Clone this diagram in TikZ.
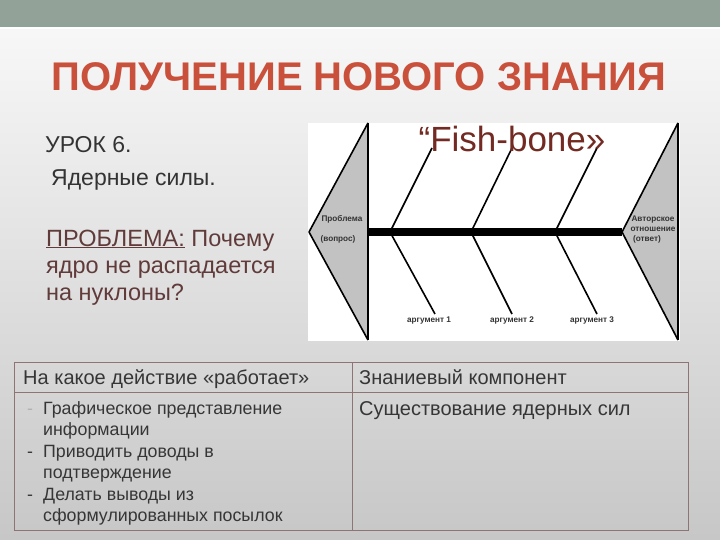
\documentclass[tikz,border=0pt]{standalone}
\usepackage{fontspec}
\setmainfont{Liberation Sans}
\usepackage{xcolor}

\definecolor{bandgreen}{HTML}{93A299}
\definecolor{titlered}{HTML}{C9503B}
\definecolor{fishred}{HTML}{722A22}
\definecolor{problembrown}{HTML}{613A3A}
\definecolor{tableline}{HTML}{8E7474}
\definecolor{celltext}{HTML}{363636}
\definecolor{headgrey}{HTML}{C2C2C2}

\tikzset{
	slidetitle/.style={font=\bfseries\fontsize{40}{44}\selectfont, text=titlered},
	lesson/.style={font=\fontsize{23}{27}\selectfont, text=black!80, anchor=base west},
	problem/.style={font=\fontsize{23.5}{27}\selectfont, text=problembrown, anchor=base west},
	fishtitle/.style={font=\fontsize{35}{39}\selectfont, text=fishred, anchor=base},
	boneword/.style={font=\bfseries\fontsize{8.2}{10}\selectfont, text=black!80, anchor=base},
	bone/.style={line width=1.6pt},
	spineline/.style={line width=7pt},
	headcell/.style={font=\fontsize{20}{24}\selectfont, text=celltext, anchor=base west},
	bodycell/.style={font=\fontsize{17.8}{21}\selectfont, text=celltext, anchor=base west},
	grid/.style={draw=tableline, line width=1pt}
}

\begin{document}
\begin{tikzpicture}[x=1pt, y=-1pt, every node/.style={inner sep=0pt}]
	\useasboundingbox (0,0) rectangle (720,540);
	\shade[top color=white!97!black, bottom color=white!78!black] (0,29) rectangle (720,540);
	\fill[bandgreen] (0,0) rectangle (720,27);
	\fill[white] (0,27) rectangle (720,29);

	\node[slidetitle] (title) at (359,77) {ПОЛУЧЕНИЕ НОВОГО ЗНАНИЯ};

	\node[lesson] (urok) at (45,153) {УРОК 6.};
	\node[lesson] (topic) at (51,186) {Ядерные силы.};
	\node[problem] (prob1) at (46,246) {\underline{ПРОБЛЕМА:} Почему};
	\node[problem] (prob2) at (46,273) {ядро не распадается};
	\node[problem] (prob3) at (46,300) {на нуклоны?};

	\fill[white] (308,123) rectangle (680,341);
	\coordinate (pTop) at (368,123);
	\coordinate (pTip) at (309,232);
	\coordinate (pBot) at (368,340);
	\coordinate (aTop) at (678,123);
	\coordinate (aTip) at (622,232);
	\coordinate (aBot) at (678,340);
	\coordinate (spineL) at (368,232);
	\fill[headgrey] (pTop) -- (pTip) -- (pBot) -- cycle;
	\fill[headgrey] (aTop) -- (aTip) -- (aBot) -- cycle;
	\draw[bone, line join=round] (pTop) -- (pTip) -- (pBot);
	\draw[bone, line join=round] (aTop) -- (aTip) -- (aBot);
	\draw[line width=2pt] (pTop) -- (pBot);
	\draw[line width=2pt] (aTop) -- (aBot);
	\draw[spineline] (spineL) -- (aTip);

	\foreach \j/\u/\d/\a [count=\k] in {390/432/435/429, 471/512/512/512, 555/597/597/592}{
		\coordinate (j\k) at (\j,232);
		\coordinate (u\k) at (\u,148);
		\coordinate (d\k) at (\d,314);
		\draw[bone] (j\k) -- (u\k);
		\draw[bone] (j\k) -- (d\k);
		\node[boneword] (arg\k) at (\a,322.5) {аргумент \k};
	}

	\node[boneword] (head1) at (342,222) {Проблема};
	\node[boneword] (head2) at (338,241) {(вопрос)};
	\node[boneword] (tail1) at (653,222) {Авторское};
	\node[boneword] (tail2) at (653,231) {отношение};
	\node[boneword] (tail3) at (647,241) {(ответ)};

	\node[fishtitle] (fish) at (512,152) {“Fish-bone»};

	\draw[grid] (14,362) rectangle (688,530);
	\draw[grid] (14,392) -- (688,392);
	\draw[grid] (352,362) -- (352,530);

	\node[headcell] (hcol1) at (23,384) {На какое действие «работает»};
	\node[headcell] (hcol2) at (359,384) {Знаниевый компонент};
	\node[headcell] (knows) at (359,415) {Существование ядерных сил};

	\foreach \txt [count=\i] in {Графическое представление, информации, Приводить доводы в, подтверждение, Делать выводы из, сформулированных посылок}{
		\node[bodycell] (cell\i) at (43,392.5+21.5*\i) {\txt};
	}
	\node[bodycell, text=black!30] (dash1) at (27,414) {-};
	\node[bodycell] (dash2) at (27,457) {-};
	\node[bodycell] (dash3) at (27,500) {-};
\end{tikzpicture}
\end{document}
